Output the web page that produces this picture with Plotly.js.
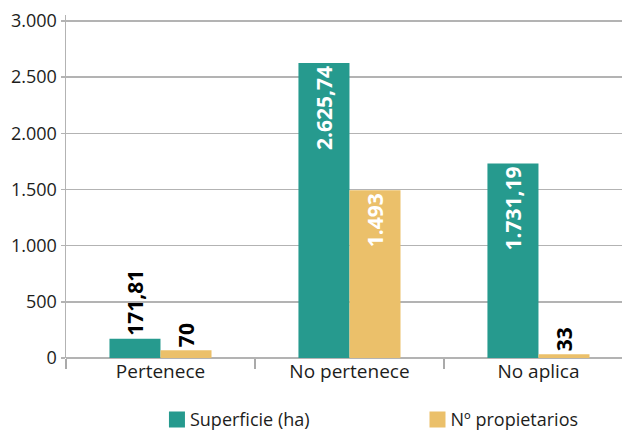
<!DOCTYPE html>
<html>
<head>
<meta charset="utf-8">
<script src="https://cdn.plot.ly/plotly-3.0.1.min.js"></script>
<style>html,body{margin:0;padding:0;background:#fff;}#chart{width:623px;height:430px;}</style>
</head>
<body>
<div id="chart"></div>
<script>
const categories = ["Pertenece", "No pertenece", "No aplica"];
const superficie = [171.81, 2625.74, 1731.19];
const propietarios = [70, 1493, 33];
const seriesNames = ["Superficie (ha)", "N\u00ba propietarios"];
const yTicks = [0, 500, 1000, 1500, 2000, 2500, 3000];

const FONT = "Open Sans, Noto Sans, sans-serif";
const TXT = "#1d1d1b";

const common = {
  type: "bar",
  x: categories,
  textangle: -90,
  textposition: "auto",
  insidetextanchor: "end",
  constraintext: "none",
  cliponaxis: false,
  insidetextfont: {family: FONT, size: 21, color: "#ffffff", weight: "bold"},
  outsidetextfont: {family: FONT, size: 21, color: "#000000", weight: "bold"},
  hoverinfo: "x+y"
};

const traces = [
  Object.assign({}, common, {
    name: seriesNames[0], y: superficie,
    texttemplate: "%{y:,.2f}",
    marker: {color: "#269a8e"},
    legend: "legend"
  }),
  Object.assign({}, common, {
    name: seriesNames[1], y: propietarios,
    texttemplate: "%{y:,}",
    marker: {color: "#ebc06a"},
    legend: "legend2"
  })
];

const legendBase = {
  orientation: "h", xanchor: "left", yref: "container", y: 0.067, yanchor: "top",
  font: {family: FONT, size: 18, color: TXT},
  itemwidth: 30, bgcolor: "rgba(0,0,0,0)", borderwidth: 0
};

const layout = {
  width: 623, height: 430,
  margin: {l: 66, r: 1, t: 15, b: 72},
  paper_bgcolor: "#fff", plot_bgcolor: "#fff",
  separators: ",.",
  font: {family: FONT, size: 18, color: TXT},
  barmode: "group",
  bargap: 0.46,
  bargroupgap: 0,
  showlegend: true,
  legend: Object.assign({}, legendBase, {x: 0.151}),
  legend2: Object.assign({}, legendBase, {x: 0.6196}),
  xaxis: {
    type: "category",
    range: [-0.5, 2.442],
    showgrid: false, zeroline: false,
    showline: false,
    ticks: "outside", tickson: "boundaries", ticklen: 10, tickwidth: 1.5, tickcolor: "#aaaaaa",
    tickfont: {family: FONT, size: 19, color: TXT},
    fixedrange: true
  },
  yaxis: {
    range: [0, 3053],
    tickvals: yTicks,
    tickformat: ",",
    showgrid: true, gridcolor: "#b3b3b3", gridwidth: 1.5,
    zeroline: true, zerolinecolor: "#b3b3b3", zerolinewidth: 1.5,
    showline: true, linecolor: "#b3b3b3", linewidth: 1.5,
    ticks: "outside", ticklen: 4, tickwidth: 1.5, tickcolor: "#b3b3b3",
    tickfont: {family: FONT, size: 18, color: TXT},
    fixedrange: true
  }
};

Plotly.newPlot("chart", traces, layout, {displayModeBar: false, staticPlot: true}).then(function () {
  document.querySelectorAll("#chart .legendpoints path").forEach(function (p) {
    p.setAttribute("d", "M15,8H-1V-8H15Z");
  });
});
</script>
</body>
</html>
